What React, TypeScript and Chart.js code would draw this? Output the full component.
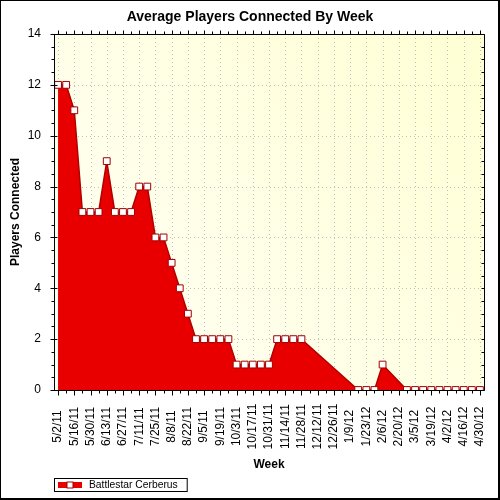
import React, { useEffect, useRef } from 'react';
import { Chart, registerables } from 'chart.js';

Chart.register(...registerables);

const weeks: string[] = [
  '5/2/11', '5/9/11', '5/16/11', '5/23/11', '5/30/11', '6/6/11', '6/13/11', '6/20/11', '6/27/11',
  '7/4/11', '7/11/11', '7/18/11', '7/25/11', '8/1/11', '8/8/11', '8/15/11', '8/22/11', '8/29/11',
  '9/5/11', '9/12/11', '9/19/11', '9/26/11', '10/3/11', '10/10/11', '10/17/11', '10/24/11', '10/31/11',
  '11/7/11', '11/14/11', '11/21/11', '11/28/11', '12/5/11', '12/12/11', '12/19/11', '12/26/11',
  '1/2/12', '1/9/12', '1/16/12', '1/23/12', '1/30/12', '2/6/12', '2/13/12', '2/20/12', '2/27/12',
  '3/5/12', '3/12/12', '3/19/12', '3/26/12', '4/2/12', '4/9/12', '4/16/12', '4/23/12', '4/30/12',
];

const playersConnected: (number | null)[] = [
  12, 12, 11, 7, 7, 7, 9, 7, 7,
  7, 8, 8, 6, 6, 5, 4, 3, 2,
  2, 2, 2, 2, 1, 1, 1, 1, 1,
  2, 2, 2, 2, null, null, null, null,
  null, null, 0, 0, 0, 1, null, null, 0,
  0, 0, 0, 0, 0, 0, 0, 0, 0,
];

const yMin = 0;
const yMax = 14;
const yStep = 2;

const chartTitle = 'Average Players Connected By Week';
const xTitle = 'Week';
const yTitle = 'Players Connected';
const seriesName = 'Battlestar Cerberus';

const FONT = "Arial, 'Liberation Sans', sans-serif";
const FILL = '#e80000';
const LINE = '#b00000';
const MARKER_EDGE = '#a00000';

const decorPlugin = {
  id: 'decor',
  beforeDraw(chart: any) {
    const { ctx, chartArea: a, scales } = chart;
    const xs = scales.x;
    const ys = scales.y;
    ctx.save();
    const g = ctx.createLinearGradient(a.left, a.bottom, a.right, a.top);
    g.addColorStop(0, '#fffff6');
    g.addColorStop(1, '#ffffd4');
    ctx.fillStyle = g;
    ctx.fillRect(a.left, a.top, a.right - a.left, a.bottom - a.top);

    ctx.strokeStyle = '#c0c0c0';
    ctx.lineWidth = 1;
    ctx.setLineDash([1, 3]);
    ctx.beginPath();
    const labels = chart.data.labels as string[];
    for (let i = 0; i < labels.length; i += 2) {
      const px = Math.round(xs.getPixelForValue(i)) + 0.5;
      ctx.moveTo(px, a.top);
      ctx.lineTo(px, a.bottom);
    }
    ys.ticks.forEach((t: any) => {
      if (t.value <= ys.min || t.value >= ys.max) return;
      const py = Math.round(ys.getPixelForValue(t.value)) + 0.5;
      ctx.moveTo(a.left, py);
      ctx.lineTo(a.right, py);
    });
    ctx.stroke();
    ctx.restore();
  },
  afterDatasetsDraw(chart: any) {
    const { ctx, chartArea: a, scales } = chart;
    const xs = scales.x;
    const ys = scales.y;
    const L = Math.round(a.left) + 0.5;
    const R = Math.round(a.right) + 0.5;
    const T = Math.round(a.top) + 0.5;
    const B = Math.round(a.bottom) + 0.5;
    ctx.save();
    ctx.strokeStyle = '#000';
    ctx.lineWidth = 1;
    ctx.setLineDash([]);
    ctx.beginPath();
    ctx.rect(L, T, R - L, B - T);
    for (let v = ys.min; v <= ys.max + 1e-9; v += yStep / 4) {
      const py = Math.round(ys.getPixelForValue(v)) + 0.5;
      const major = Math.abs(v / yStep - Math.round(v / yStep)) < 1e-9;
      if (major) {
        ctx.moveTo(L - 4, py);
        ctx.lineTo(L + 3, py);
      } else {
        ctx.moveTo(L - 3, py);
        ctx.lineTo(L, py);
      }
      ctx.moveTo(R - 3, py);
      ctx.lineTo(R, py);
    }
    const n = (chart.data.labels as string[]).length;
    for (let i = 0; i < n; i++) {
      const px = Math.round(xs.getPixelForValue(i)) + 0.5;
      const major = i % 2 === 0;
      ctx.moveTo(px, B);
      ctx.lineTo(px, B + (major ? 5 : 3));
      ctx.moveTo(px, T);
      ctx.lineTo(px, T - (major ? 4 : 3));
    }
    ctx.stroke();
    ctx.restore();
  },
  afterDraw(chart: any) {
    const { ctx, chartArea: a, scales, width, height } = chart;
    const xs = scales.x;
    const labels = chart.data.labels as string[];
    ctx.save();
    ctx.font = `12px ${FONT}`;
    ctx.fillStyle = '#000';
    ctx.textAlign = 'center';
    ctx.textBaseline = 'middle';
    for (let i = 0; i < labels.length; i += 2) {
      const px = xs.getPixelForValue(i);
      ctx.save();
      ctx.translate(px, a.bottom + 36.5);
      ctx.rotate(-Math.PI / 2);
      ctx.fillText(labels[i], 0, 0);
      ctx.restore();
    }

    const ds = chart.data.datasets[0];
    ctx.font = `10.3px ${FONT}`;
    const tw = ctx.measureText(ds.label).width;
    const bx = Math.round(a.left) + 0.5;
    const by = height - 21.5;
    const bh = 13;
    const bw = 35 + tw + 9;
    ctx.lineWidth = 1;
    ctx.strokeStyle = '#000';
    ctx.fillStyle = '#fff';
    ctx.fillRect(bx, by, bw, bh);
    ctx.strokeRect(bx, by, bw, bh);
    const cy = by + bh / 2;
    ctx.fillStyle = ds.backgroundColor;
    ctx.fillRect(bx + 3.5, cy - 3, 24, 6);
    ctx.fillStyle = '#fff';
    ctx.strokeStyle = ds.pointBorderColor;
    ctx.fillRect(bx + 12.5, cy - 3, 6, 6);
    ctx.strokeRect(bx + 12.5, cy - 3, 6, 6);
    ctx.fillStyle = '#000';
    ctx.textAlign = 'left';
    ctx.textBaseline = 'middle';
    ctx.fillText(ds.label, bx + 34.5, cy + 0.5);

    ctx.strokeStyle = '#000';
    ctx.lineWidth = 1;
    ctx.strokeRect(0.5, 0.5, width - 1, height - 1);
    ctx.beginPath();
    ctx.moveTo(width - 1.5, 0);
    ctx.lineTo(width - 1.5, height);
    ctx.moveTo(0, height - 1.5);
    ctx.lineTo(width, height - 1.5);
    ctx.stroke();
    ctx.restore();
  },
};

export default function App() {
  const canvasRef = useRef<HTMLCanvasElement | null>(null);

  useEffect(() => {
    if (!canvasRef.current) return;
    const chart = new Chart(canvasRef.current, {
      type: 'line',
      data: {
        labels: weeks,
        datasets: [
          {
            label: seriesName,
            data: playersConnected,
            fill: 'origin',
            backgroundColor: FILL,
            borderColor: LINE,
            borderWidth: 1.5,
            tension: 0,
            spanGaps: true,
            pointStyle: 'rect',
            pointRadius: 4.8,
            pointHoverRadius: 4.8,
            pointBackgroundColor: '#ffffff',
            pointBorderColor: MARKER_EDGE,
            pointBorderWidth: 1,
          },
        ],
      },
      options: {
        animation: false,
        responsive: false,
        devicePixelRatio: 1,
        layout: { padding: { top: 0, left: 0, right: 0, bottom: 24 } },
        plugins: {
          legend: { display: false },
          tooltip: { enabled: false },
          title: {
            display: true,
            text: chartTitle,
            color: '#000',
            font: { family: FONT, size: 14, weight: 'bold' },
            padding: { top: 8.6, bottom: 8.6 },
          },
        },
        scales: {
          x: {
            type: 'category',
            offset: true,
            grid: { display: false, drawTicks: false },
            border: { display: false },
            ticks: { display: false, autoSkip: false },
            title: {
              display: true,
              text: xTitle,
              color: '#000',
              font: { family: FONT, size: 12, weight: 'bold' },
              padding: { top: 0, bottom: 4.3 },
            },
            afterFit(s: any) {
              s.height = 86;
            },
          },
          y: {
            type: 'linear',
            position: 'left',
            min: yMin,
            max: yMax,
            grid: { display: false, drawTicks: false },
            border: { display: false },
            ticks: {
              stepSize: yStep,
              color: '#000',
              padding: 13,
              font: { family: FONT, size: 12 },
            },
            title: {
              display: true,
              text: yTitle,
              color: '#000',
              font: { family: FONT, size: 12, weight: 'bold' },
              padding: { top: 8.3, bottom: 0 },
            },
            afterFit(s: any) {
              s.width = 54;
            },
          },
          yRight: {
            type: 'linear',
            position: 'right',
            display: true,
            grid: { display: false, drawTicks: false },
            border: { display: false },
            ticks: { display: false },
            afterFit(s: any) {
              s.width = 16;
            },
          },
        },
      },
      plugins: [decorPlugin],
    } as any);
    return () => chart.destroy();
  }, []);

  return (
    <div style={{ position: 'fixed', left: 0, top: 0, width: 500, height: 500, background: '#fff' }}>
      <canvas ref={canvasRef} width={500} height={500} style={{ width: 500, height: 500, display: 'block' }} />
    </div>
  );
}
